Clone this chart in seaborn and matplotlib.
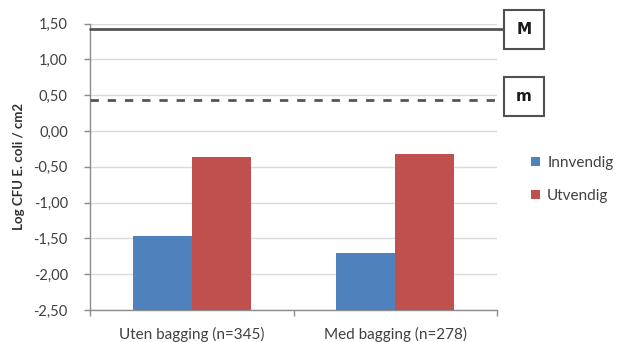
import matplotlib
matplotlib.use("Agg")
import matplotlib.pyplot as plt
import matplotlib.transforms as mtransforms
import numpy as np
import pandas as pd
import seaborn as sns

# Data
categories = ["Uten bagging (n=345)", "Med bagging (n=278)"]
series = ["Innvendig", "Utvendig"]
innvendig = [-1.47, -1.70]
utvendig = [-0.37, -0.32]
limit_M = 1.42
limit_m = 0.43
y_ticks = [1.5, 1.0, 0.5, 0.0, -0.5, -1.0, -1.5, -2.0, -2.5]
y_min, y_max = -2.5, 1.5

df = pd.DataFrame({
    "kategori": categories * 2,
    "serie": [series[0]] * 2 + [series[1]] * 2,
    "verdi": innvendig + utvendig,
})

sns.set_theme(style="white")
plt.rcParams["font.family"] = ["Lato", "DejaVu Sans"]

fig = plt.figure(figsize=(6.28, 3.42), dpi=100)
ax = fig.add_axes([90 / 628, 32 / 342, 407 / 628, 286.5 / 342])

palette = {"Innvendig": "#4F81BD", "Utvendig": "#C0504D"}
sns.barplot(data=df, x="kategori", y="verdi", hue="serie", order=categories,
            hue_order=series, palette=palette, saturation=1, width=0.58,
            gap=0, linewidth=0, ax=ax, zorder=3)

# Bars rise from the bottom of the value axis, as the category axis crosses there
for p in ax.patches:
    h = p.get_height()
    p.set_y(y_min)
    p.set_height(h - y_min)

ax.set_ylim(y_min, y_max)
ax.set_xlim(-0.5, 1.5)
ax.set_yticks(y_ticks)
ax.set_yticklabels([f"{v:.2f}".replace(".", ",") for v in y_ticks])
ax.yaxis.grid(True, color="#d9d9d9", linewidth=1.0, zorder=0)
ax.set_axisbelow(True)

for s in ["top", "right"]:
    ax.spines[s].set_visible(False)
for s in ["left", "bottom"]:
    ax.spines[s].set_color("#8c8c8c")
    ax.spines[s].set_linewidth(1.0)

ax.tick_params(axis="y", which="major", left=True, length=4, width=1,
               color="#8c8c8c", labelsize=10.5, labelcolor="#404040", pad=12)
ax.tick_params(axis="x", which="major", bottom=False, labelsize=11,
               labelcolor="#404040", pad=6)
ax.set_xticks([-0.5, 0.5, 1.5], minor=True)
ax.tick_params(axis="x", which="minor", bottom=True, length=4, width=1,
               color="#8c8c8c")

ax.set_xlabel("")
ax.set_ylabel("Log CFU E. coli / cm2", fontsize=9.5, fontweight="bold",
              color="#303030", labelpad=6)

# Limit lines M and m with their boxed labels
trans = mtransforms.blended_transform_factory(ax.transAxes, ax.transData)
ax.plot([0, 1.013], [limit_M, limit_M], transform=trans, color="#555555",
        linewidth=2, clip_on=False, zorder=4)
ax.plot([0, 1.013], [limit_m, limit_m], transform=trans, color="#555555",
        linewidth=2, linestyle=(0, (3, 3.2)), clip_on=False, zorder=4)

box = dict(boxstyle="square,pad=0.8", facecolor="white", edgecolor="#505050",
           linewidth=1.5)
ax.text(1.066, limit_M + 0.0, "M", transform=trans, ha="center", va="center",
        fontsize=11, fontweight="bold", color="#1a1a1a", bbox=box,
        family=["DejaVu Sans"])
ax.text(1.066, limit_m + 0.05, "m", transform=trans, ha="center", va="center",
        fontsize=11, fontweight="bold", color="#1a1a1a", bbox=box,
        family=["DejaVu Sans"])

sns.move_legend(ax, "upper left", bbox_to_anchor=(525 / 628, 1 - 150 / 342),
                bbox_transform=fig.transFigure, frameon=False, title=None,
                fontsize=11, handlelength=0.55, handleheight=0.55,
                handletextpad=0.5, labelspacing=1.25, borderaxespad=0)
for t in ax.get_legend().get_texts():
    t.set_color("#404040")

fig.savefig("out.png", dpi=100, facecolor="white")
